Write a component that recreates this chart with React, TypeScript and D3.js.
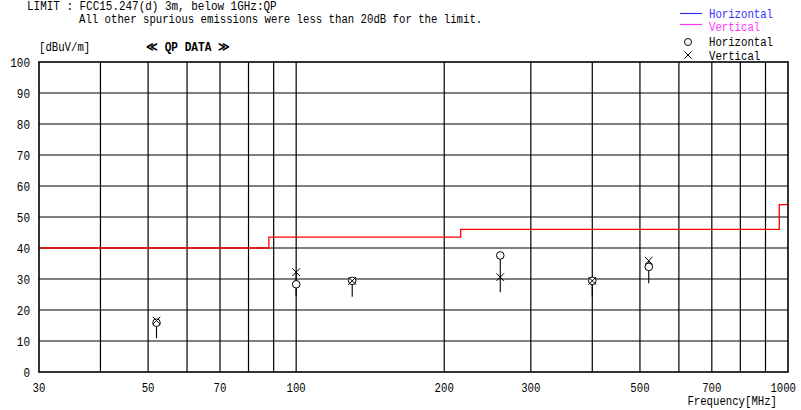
import React, { useEffect, useRef } from "react";
import * as d3 from "d3";

// QP measurement points (MHz / dBuV/m)
const freqs = [52.0, 100.0, 130.0, 260.0, 400.0, 521.0];
const horizontalQP = [15.9, 28.3, 29.4, 37.6, 29.4, 33.9];
const verticalQP = [16.6, 32.2, 29.4, 30.6, 29.4, 35.9];
const stemLow = [10.9, 24.5, 24.3, 25.7, 24.3, 28.6];

// FCC 15.247(d) limit steps
const limitFreqs = [30, 88, 216, 960, 1000];
const limitLevels = [40, 43.5, 46, 54, 54];

const xTickLabels = [30, 50, 70, 100, 200, 300, 500, 700, 1000];
const xGrid = [40, 50, 60, 70, 80, 90, 100, 200, 300, 400, 500, 600, 700, 800, 900];
const yTicks = [0, 10, 20, 30, 40, 50, 60, 70, 80, 90, 100];

const FONT = "'Liberation Mono', 'DejaVu Sans Mono', monospace";
const CHAR_W = 6.4;

export default function App() {
  const ref = useRef<SVGSVGElement>(null);

  useEffect(() => {
    const svg = d3.select(ref.current);
    svg.selectAll("*").remove();

    const left = 39, right = 788, top = 62, bottom = 372;
    const x = d3.scaleLog().domain([30, 1000]).range([left, right]);
    const y = d3.scaleLinear().domain([0, 100]).range([bottom, top]);

    const g = svg.append("g");

    // grid
    g.selectAll("line.hgrid").data(yTicks.slice(1, -1)).join("line")
      .attr("class", "hgrid")
      .attr("x1", left).attr("x2", right)
      .attr("y1", d => y(d)).attr("y2", d => y(d))
      .attr("stroke", "#000").attr("stroke-width", 1.2);
    g.selectAll("line.vgrid").data(xGrid).join("line")
      .attr("class", "vgrid")
      .attr("x1", d => x(d)).attr("x2", d => x(d))
      .attr("y1", top).attr("y2", bottom)
      .attr("stroke", "#000").attr("stroke-width", 1.2);

    // limit line
    const limitPts = limitFreqs.map((f, i) => [f, limitLevels[i]] as [number, number]);
    g.append("path")
      .attr("d", d3.line<[number, number]>().x(d => x(d[0])).y(d => y(d[1])).curve(d3.curveStepAfter)(limitPts))
      .attr("fill", "none").attr("stroke", "#ff0000").attr("stroke-width", 1.3);

    // border
    g.append("rect")
      .attr("x", left).attr("y", top)
      .attr("width", right - left).attr("height", bottom - top)
      .attr("fill", "none").attr("stroke", "#000").attr("stroke-width", 1.6);

    // stems
    g.selectAll("line.stem").data(freqs).join("line")
      .attr("class", "stem")
      .attr("x1", d => x(d)).attr("x2", d => x(d))
      .attr("y1", (d, i) => y(Math.max(horizontalQP[i], verticalQP[i])))
      .attr("y2", (d, i) => y(stemLow[i]))
      .attr("stroke", "#000").attr("stroke-width", 1.1);

    // circles (horizontal)
    g.selectAll("circle.h").data(freqs).join("circle")
      .attr("class", "h")
      .attr("cx", d => x(d)).attr("cy", (d, i) => y(horizontalQP[i]))
      .attr("r", 3.8)
      .attr("fill", "#fff").attr("stroke", "#000").attr("stroke-width", 1);

    // crosses (vertical)
    const s = 3.8;
    g.selectAll("path.v").data(freqs).join("path")
      .attr("class", "v")
      .attr("d", (d, i) => {
        const cx = x(d), cy = y(verticalQP[i]);
        return `M${cx - s},${cy - s}L${cx + s},${cy + s}M${cx - s},${cy + s}L${cx + s},${cy - s}`;
      })
      .attr("fill", "none").attr("stroke", "#000").attr("stroke-width", 1);

    const fit = (t: any, s: string, w = CHAR_W) =>
      t.attr("textLength", s.length * w).attr("lengthAdjust", "spacingAndGlyphs");

    // y labels
    g.selectAll("text.ylab").data(yTicks).join("text")
      .attr("class", "ylab")
      .attr("x", 30).attr("y", d => y(d) + 4.5)
      .attr("text-anchor", "end")
      .style("font-family", FONT).style("font-size", "13px")
      .each(function (d) { fit(d3.select(this).text(String(d)), String(d), 6.6); });

    // x labels (last one kept inside the page)
    g.selectAll("text.xlab").data(xTickLabels).join("text")
      .attr("class", "xlab")
      .attr("x", d => d === 1000 ? 796 : x(d)).attr("y", 392)
      .attr("text-anchor", d => d === 1000 ? "end" : "middle")
      .style("font-family", FONT).style("font-size", "13px")
      .each(function (d) { fit(d3.select(this).text(String(d)), String(d), 6.4); });

    const txt = (tx: number, ty: number, s: string, color = "#000", anchor = "start") => {
      const t = svg.append("text").attr("x", tx).attr("y", ty)
        .attr("fill", color).attr("text-anchor", anchor)
        .style("font-family", FONT).style("font-size", "12.5px")
        .text(s);
      fit(t, s);
      return t;
    };

    txt(777, 405, "Frequency[MHz]", "#000", "end");
    txt(27, 10, "LIMIT :  FCC15.247(d) 3m, below 1GHz:QP");
    txt(79, 23, "All other spurious emissions were less than 20dB for the limit.");
    txt(39, 51, "[dBuV/m]");
    svg.append("text").attr("x", 146).attr("y", 51)
      .style("font-family", FONT).style("font-size", "13px").style("font-weight", "bold")
      .attr("textLength", 84).attr("lengthAdjust", "spacingAndGlyphs")
      .text("≪ QP DATA ≫");

    // legend
    svg.append("line").attr("x1", 680).attr("x2", 702).attr("y1", 13.5).attr("y2", 13.5)
      .attr("stroke", "#3333ff").attr("stroke-width", 1.2);
    txt(709, 18, "Horizontal", "#3333ff");
    svg.append("line").attr("x1", 680).attr("x2", 702).attr("y1", 24.5).attr("y2", 24.5)
      .attr("stroke", "#ff33ff").attr("stroke-width", 1.2);
    txt(709, 31, "Vertical", "#ff33ff");
    svg.append("circle").attr("cx", 688).attr("cy", 42).attr("r", 3.5)
      .attr("fill", "none").attr("stroke", "#000");
    txt(709, 46, "Horizontal");
    svg.append("path")
      .attr("d", `M684.5,51.5L691.5,58.5M684.5,58.5L691.5,51.5`)
      .attr("stroke", "#000").attr("fill", "none");
    txt(709, 60, "Vertical");
  }, []);

  return (
    <svg ref={ref} width={801} height={410}
      style={{ position: "absolute", left: 0, top: 0, background: "#fff" }} />
  );
}
